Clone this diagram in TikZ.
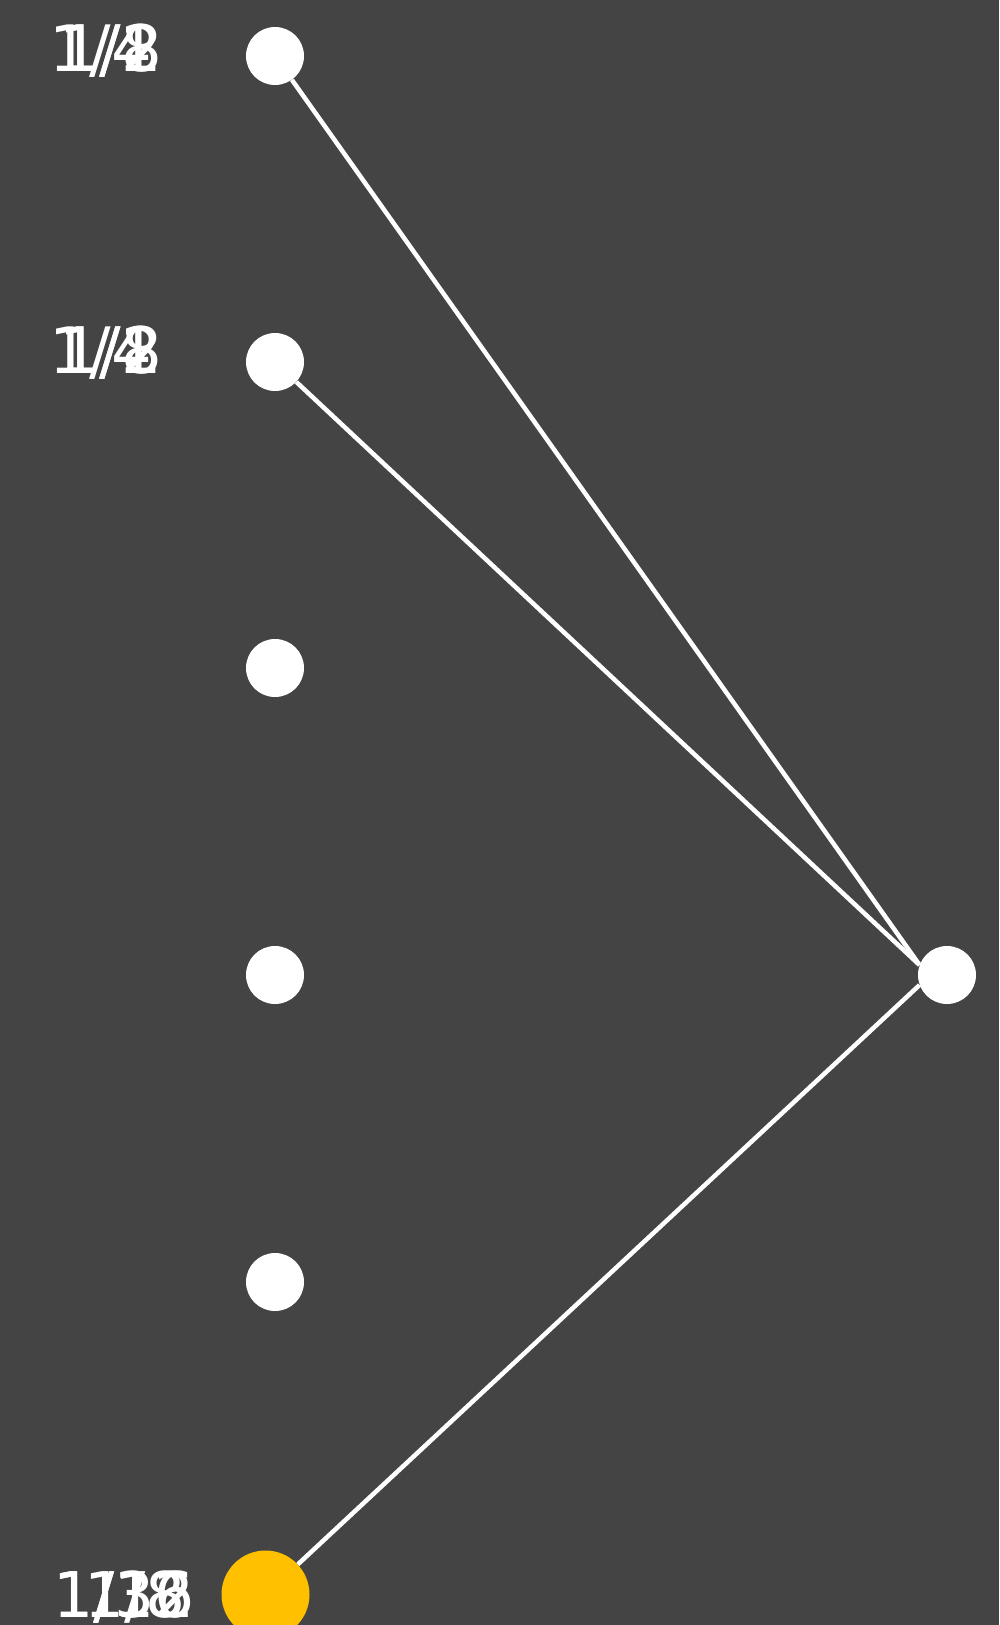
\documentclass[tikz,border=0pt]{standalone}
\usepackage{fontspec}
\setmainfont{DejaVu Sans}
\definecolor{bg}{RGB}{68,68,68}
\definecolor{gold}{RGB}{255,192,0}
\tikzset{
  dot/.style={circle, fill=white, draw=none, minimum size=58pt, inner sep=0pt},
  golddot/.style={circle, fill=gold, draw=none, minimum size=88pt, inner sep=0pt},
  lab/.style={text=white, inner sep=0pt, anchor=base west, font=\fontsize{64}{76}\selectfont},
  blab/.style={text=white, inner sep=0pt, anchor=base west, font=\fontsize{63}{75}\selectfont},
  edge/.style={draw=white, line width=4.5pt}
}
\begin{document}
\begin{tikzpicture}[x=1pt, y=-1pt]
\fill[bg] (0,0) rectangle (999,1625);
\useasboundingbox (0,0) rectangle (999,1625);
% labels
\node[lab] (t1a) at (49,71) {1/4};
\node[lab] (t1b) at (59,71) {1/8};
\node[lab] (t1c) at (59,71) {1/2};
\node[lab] (t2a) at (49,373) {1/4};
\node[lab] (t2b) at (59,373) {1/8};
\node[lab] (t2c) at (59,373) {1/2};
\node[blab] (b1) at (53,1617) {1/16};
\node[blab] (b2) at (53,1617) {1/32};
\node[blab] (b3) at (84,1617) {1/8};
% nodes
\node[dot] (n1) at (275,56) {};
\node[dot] (n2) at (275,362) {};
\node[dot] (n3) at (275,668) {};
\node[dot] (n4) at (275,975) {};
\node[dot] (n5) at (275,1282) {};
\node[golddot] (g) at (265.5,1594.5) {};
\node[dot] (r) at (947,975) {};
% edges
\draw[edge] (n1) -- (r.160);
\draw[edge] (n2) -- (r.160);
\draw[edge] (g) -- (r.200);
\end{tikzpicture}
\end{document}
